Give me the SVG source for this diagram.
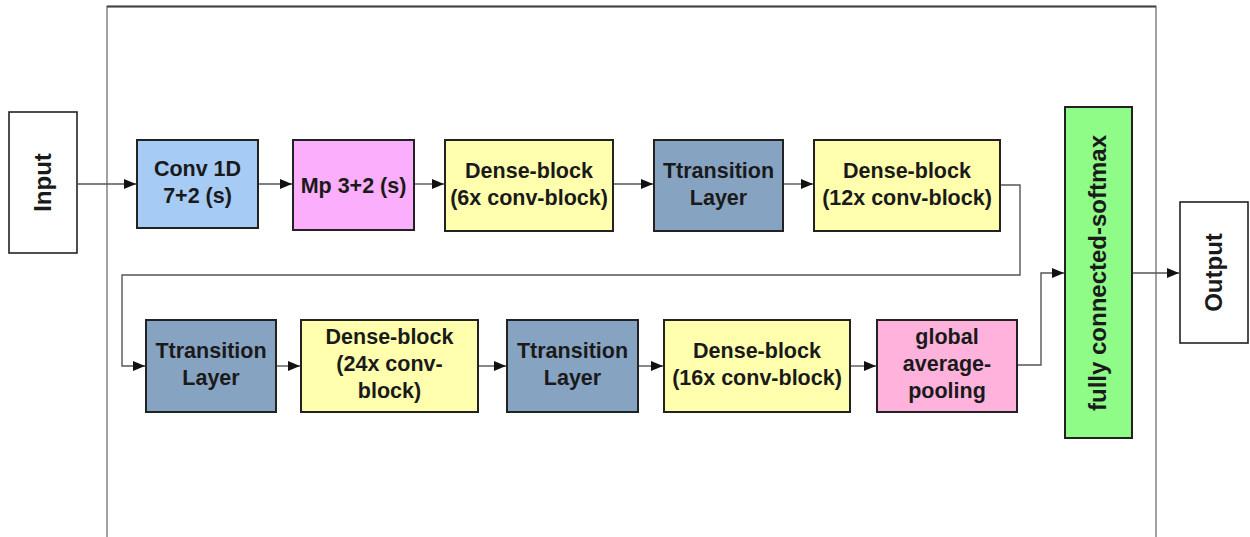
<svg xmlns="http://www.w3.org/2000/svg" width="1250" height="537" viewBox="0 0 1250 537">
  <style>
    .box { stroke: #222; stroke-width: 2; }
    .io { fill: #fff; stroke: #222; stroke-width: 1.6; }
    .lbl { font-family: "Liberation Sans", Arial, sans-serif; font-weight: bold; font-size: 21.5px; fill: #1a1a1a; text-anchor: middle; }
    .vlbl { font-family: "Liberation Sans", Arial, sans-serif; font-weight: bold; font-size: 24px; fill: #1a1a1a; text-anchor: middle; }
    .conn { fill: none; stroke: #555; stroke-width: 1.4; marker-end: url(#arrow); }
    .conv { fill: #a6cbf4; }
    .mp { fill: #fbaefb; }
    .dense { fill: #ffffad; }
    .trans { fill: #87a3c2; }
    .gap { fill: #ffb3dc; }
    .fc { fill: #8efc86; }
  </style>
  <defs>
    <marker id="arrow" viewBox="0 0 12 10" refX="12" refY="5" markerWidth="12" markerHeight="10" markerUnits="userSpaceOnUse" orient="auto">
      <path d="M0,0 L12,5 L0,10 z" fill="#111"/>
    </marker>
  </defs>
  <rect width="1250" height="537" fill="#fff"/>

  <!-- enclosing network frame (open at the bottom) -->
  <g id="frame" fill="none">
    <path d="M107,537 L107,6.5 L1156,6.5 L1156,537" stroke="#8a8a8a" stroke-width="1.6"/>
    <line x1="107" y1="6.5" x2="1156" y2="6.5" stroke="#444" stroke-width="2"/>
  </g>

  <!-- connectors -->
  <g id="connectors">
    <path class="conn" d="M78,184 L136,184"/>
    <path class="conn" d="M259,184 L292,184"/>
    <path class="conn" d="M414,184 L444,184"/>
    <path class="conn" d="M613,184 L653,184"/>
    <path class="conn" d="M783,184 L813,184"/>
    <path class="conn" d="M1000,185 L1020,185 L1020,275 L122,275 L122,366 L145,366"/>
    <path class="conn" d="M276,366 L300,366"/>
    <path class="conn" d="M478,366 L506,366"/>
    <path class="conn" d="M638,366 L663,366"/>
    <path class="conn" d="M850,366 L876,366"/>
    <path class="conn" d="M1017,365 L1041,365 L1041,273 L1064,273"/>
    <path class="conn" d="M1133,273 L1179,273"/>
  </g>

  <g id="input">
    <rect class="io" x="9" y="112" width="68" height="141"/>
    <text class="vlbl" transform="translate(51,182.5) rotate(-90)">Input</text>
  </g>

  <g id="conv1d">
    <rect class="box conv" x="137" y="140" width="121" height="88"/>
    <text class="lbl" x="197.5" y="176">Conv 1D</text>
    <text class="lbl" x="197.5" y="203">7+2 (s)</text>
  </g>

  <g id="maxpool">
    <rect class="box mp" x="293" y="140" width="121" height="90"/>
    <text class="lbl" x="353.5" y="193">Mp 3+2 (s)</text>
  </g>

  <g id="dense1">
    <rect class="box dense" x="445" y="140" width="168" height="91"/>
    <text class="lbl" x="529" y="178">Dense-block</text>
    <text class="lbl" x="529" y="205">(6x conv-block)</text>
  </g>

  <g id="transition1">
    <rect class="box trans" x="654" y="140" width="129" height="91"/>
    <text class="lbl" x="718.5" y="178">Ttransition</text>
    <text class="lbl" x="718.5" y="205">Layer</text>
  </g>

  <g id="dense2">
    <rect class="box dense" x="814" y="140" width="186" height="91"/>
    <text class="lbl" x="907" y="178">Dense-block</text>
    <text class="lbl" x="907" y="205">(12x conv-block)</text>
  </g>

  <g id="transition2">
    <rect class="box trans" x="146" y="320" width="130" height="92"/>
    <text class="lbl" x="211" y="358">Ttransition</text>
    <text class="lbl" x="211" y="385">Layer</text>
  </g>

  <g id="dense3">
    <rect class="box dense" x="301" y="320" width="177" height="92"/>
    <text class="lbl" x="389.5" y="344">Dense-block</text>
    <text class="lbl" x="389.5" y="371">(24x conv-</text>
    <text class="lbl" x="389.5" y="398">block)</text>
  </g>

  <g id="transition3">
    <rect class="box trans" x="507" y="320" width="131" height="92"/>
    <text class="lbl" x="572.5" y="358">Ttransition</text>
    <text class="lbl" x="572.5" y="385">Layer</text>
  </g>

  <g id="dense4">
    <rect class="box dense" x="664" y="320" width="186" height="92"/>
    <text class="lbl" x="757" y="358">Dense-block</text>
    <text class="lbl" x="757" y="385">(16x conv-block)</text>
  </g>

  <g id="global-pool">
    <rect class="box gap" x="877" y="320" width="140" height="92"/>
    <text class="lbl" x="947" y="344">global</text>
    <text class="lbl" x="947" y="371">average-</text>
    <text class="lbl" x="947" y="398">pooling</text>
  </g>

  <g id="fc-softmax">
    <rect class="box fc" x="1065" y="107" width="67" height="331"/>
    <text class="vlbl" transform="translate(1106,273) rotate(-90)">fully connected-softmax</text>
  </g>

  <g id="output">
    <rect class="io" x="1180" y="202" width="68" height="141"/>
    <text class="vlbl" transform="translate(1222,272.5) rotate(-90)">Output</text>
  </g>
</svg>
